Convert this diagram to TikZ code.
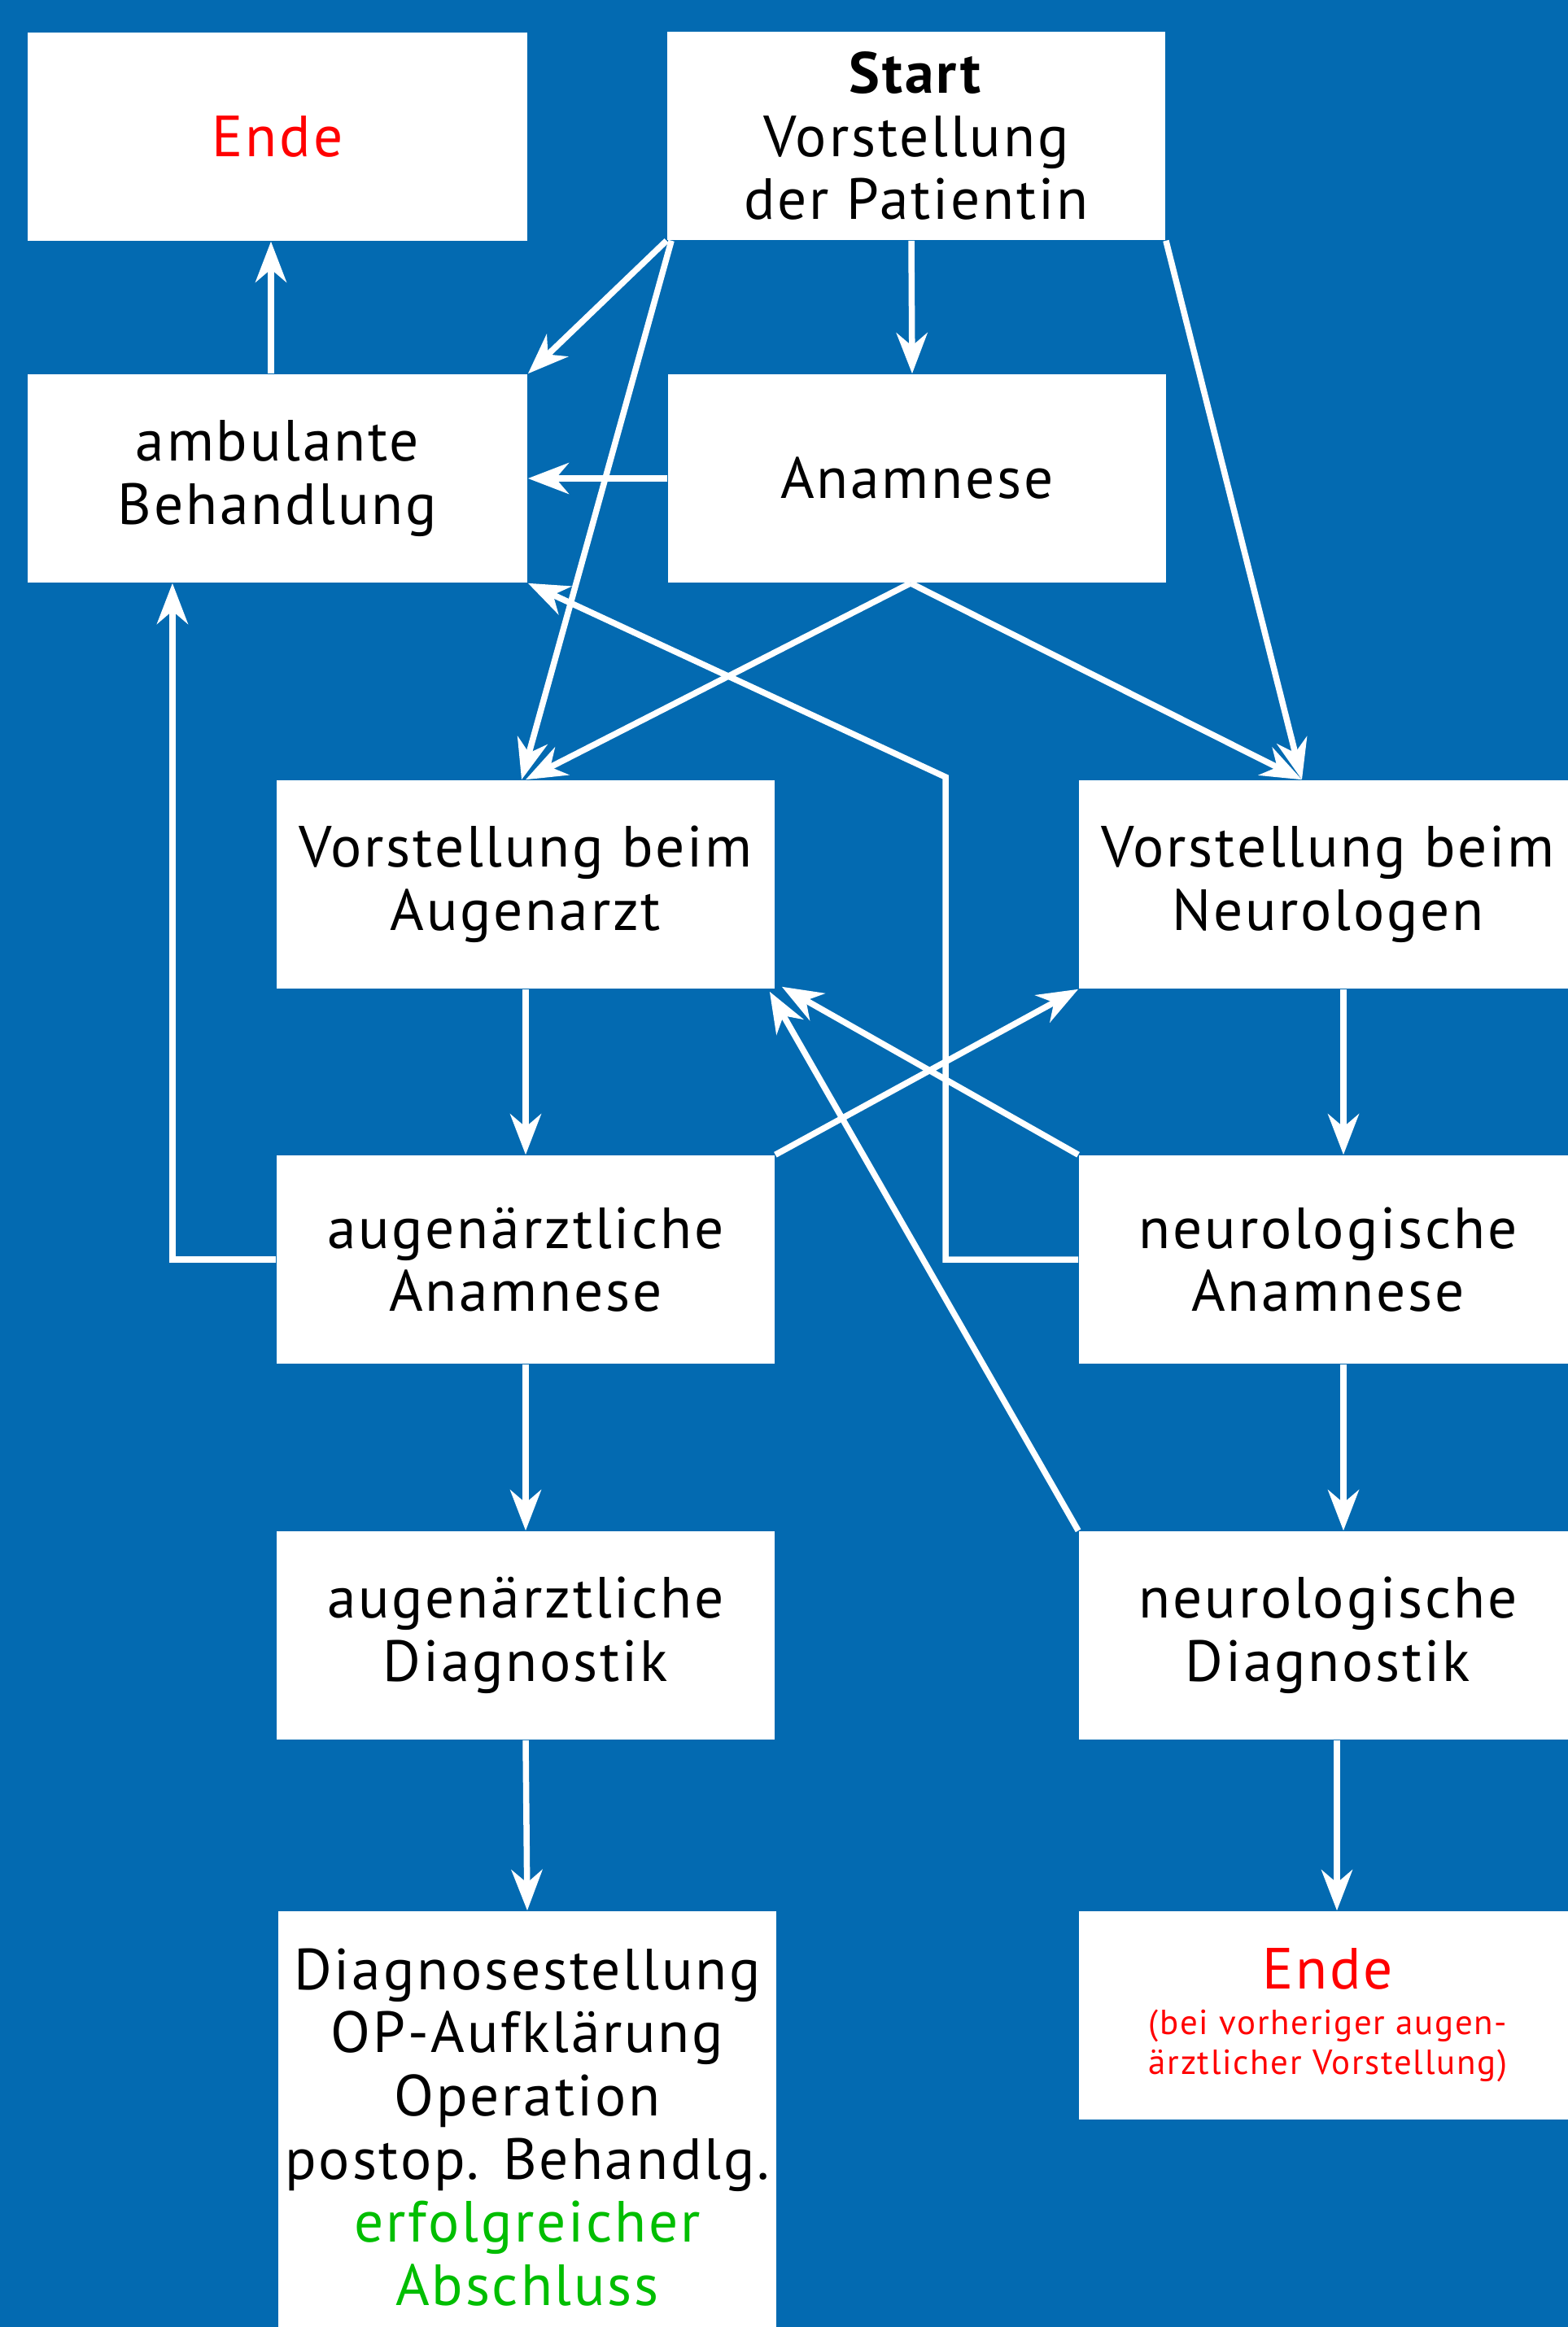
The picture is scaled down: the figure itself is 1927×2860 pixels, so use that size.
\documentclass[tikz,border=0pt]{standalone}
\usepackage{fontspec}
\setmainfont{PT Sans}[LetterSpace=4]
\usetikzlibrary{arrows.meta}
\definecolor{bg}{RGB}{3,106,177}
\definecolor{redtxt}{RGB}{255,0,0}
\definecolor{greentxt}{RGB}{0,190,0}
\begin{document}
\begin{tikzpicture}[x=0.01cm,y=-0.01cm,
  box/.style={fill=white, minimum width=6.12cm, minimum height=2.56cm, inner sep=0pt,
    align=center, font=\fontsize{20.3pt}{22.1pt}\selectfont},
  arr/.style={draw=white, line width=0.075cm,
    -{Stealth[length=0.5cm,width=0.38cm,inset=0.16cm]}}]
\fill[bg] (0,0) rectangle (1927,2860);
\useasboundingbox (0,0) rectangle (1927,2860);

\node[box, minimum width=6.14cm] (endeA) at (341,168) {\textcolor{redtxt}{Ende}};
\node[box] (start) at (1126,167) {\textbf{Start}\\Vorstellung\\der Patientin};
\node[box, minimum width=6.14cm] (amb) at (341,588) {ambulante\\Behandlung};
\node[box] (anam) at (1127,588) {Anamnese};
\node[box] (vAug) at (646,1087) {Vorstellung beim\\Augenarzt};
\node[box] (vNeu) at (1632,1087) {Vorstellung beim\\Neurologen};
\node[box] (aAnam) at (646,1548) {augenärztliche\\Anamnese};
\node[box] (nAnam) at (1632,1548) {neurologische\\Anamnese};
\node[box] (aDiag) at (646,2010) {augenärztliche\\Diagnostik};
\node[box] (nDiag) at (1632,2010) {neurologische\\Diagnostik};
\node[box, minimum width=6.11cm, minimum height=5.31cm] (diag) at (648,2614.5)
  {Diagnosestellung\\OP-Aufklärung\\Operation\\postop. Behandlg.\\
   \textcolor{greentxt}{erfolgreicher}\\\textcolor{greentxt}{Abschluss}};
\node[box] (endeB) at (1632,2477)
  {\textcolor{redtxt}{Ende}\\[-6.2pt]
   {\fontsize{12.2pt}{13.9pt}\selectfont\textcolor{redtxt}{(bei vorheriger augen-}}\\[-8.2pt]
   {\fontsize{12.2pt}{13.9pt}\selectfont\textcolor{redtxt}{ärztlicher Vorstellung)}}};

\coordinate (bendA) at (1162,955);

\draw[arr] ([xshift=-0.08cm]amb.north) -- ([xshift=-0.08cm]endeA.south);
\draw[arr] ([xshift=-0.06cm]start.south) -- ([xshift=-0.06cm]anam.north);
\draw[arr] (start.south west) -- (amb.north east);
\draw[arr] ([xshift=0.06cm]start.south west) -- ([xshift=-0.05cm]vAug.north);
\draw[arr] (start.south east) -- ([xshift=-0.32cm]vNeu.north);
\draw[arr] ([xshift=-0.08cm]anam.south) -- (vAug.north);
\draw[arr] ([xshift=-0.08cm]anam.south) -- ([xshift=-0.32cm]vNeu.north);
\draw[arr] (anam.west) -- (amb.east);
\draw[arr] (nAnam.west) -| (bendA) -- (amb.south east);
\draw[arr] (aAnam.west) -| ([xshift=-1.29cm]amb.south);
\draw[arr] (aAnam.north east) -- (vNeu.south west);
\draw[arr] (nAnam.north west) -- ([xshift=0.08cm,yshift=0.03cm]vAug.south east);
\draw[arr] (nDiag.north west) -- ([xshift=-0.07cm,yshift=-0.03cm]vAug.south east);
\draw[arr] (vAug.south) -- (aAnam.north);
\draw[arr] (aAnam.south) -- (aDiag.north);
\draw[arr] (aDiag.south) -- (diag.north);
\draw[arr] ([xshift=0.19cm]vNeu.south) -- ([xshift=0.19cm]nAnam.north);
\draw[arr] ([xshift=0.19cm]nAnam.south) -- ([xshift=0.19cm]nDiag.north);
\draw[arr] ([xshift=0.11cm]nDiag.south) -- ([xshift=0.11cm]endeB.north);
\end{tikzpicture}
\end{document}
